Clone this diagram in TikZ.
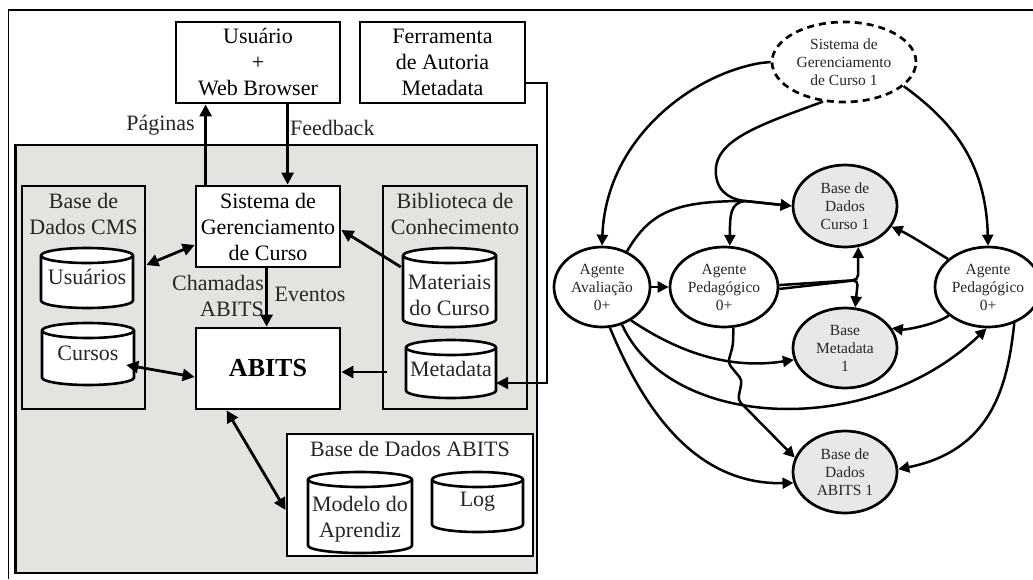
\documentclass[tikz,border=0pt]{standalone}
\usepackage{fontspec}
\setmainfont{Liberation Serif}
\usetikzlibrary{arrows.meta,shapes.geometric}
\definecolor{panelgray}{RGB}{225,228,223}
\definecolor{nodegray}{RGB}{232,233,230}
\newcommand\bigfont{\fontsize{22}{26}\selectfont}
\newcommand\smallfont{\fontsize{15.5}{18}\selectfont}

% database cylinder: name, left x, top y, right x, bottom y, text y, text
\newcommand{\dbcyl}[7]{%
  \pgfmathsetmacro\cxa{(#2+#4)/2}%
  \pgfmathsetmacro\rxa{(#4-#2)/2}%
  \pgfmathsetmacro\cya{(#3+#5)/2}%
  \pgfmathsetmacro\wa{#4-#2}%
  \pgfmathsetmacro\ha{#5-#3}%
  \draw[cylline] (#2,-#3-7.5) -- (#2,-#5+7.5)
     arc[start angle=180,end angle=360,x radius=\rxa,y radius=7.5]
     -- (#4,-#3-7.5)
     arc[start angle=0,end angle=180,x radius=\rxa,y radius=7.5] -- cycle;
  \draw[cylline,fill=none] (#2,-#3-7.5)
     arc[start angle=180,end angle=360,x radius=\rxa,y radius=7.5];
  \node[inner sep=0pt,minimum width=\wa pt,minimum height=\ha pt] (#1) at (\cxa,-\cya) {};
  \node[lbl] (#1-t) at (\cxa,-#6) {#7};
}

\begin{document}
\begin{tikzpicture}[x=1pt,y=1pt,
  >={Triangle[length=12pt,width=12pt]},
  frame/.style={line width=1.8pt},
  box/.style={draw,line width=2.8pt,fill=white,inner sep=0pt,align=center,font=\bigfont},
  graybox/.style={box,fill=panelgray},
  lbl/.style={inner sep=0pt,align=center,font=\bigfont,text=black!85},
  cylline/.style={line width=2.6pt,fill=white},
  link/.style={line width=2.8pt,->},
  dlink/.style={line width=2.8pt,<->},
  agent/.style={ellipse,draw,line width=2.7pt,inner sep=0pt,align=center,font=\smallfont,text=black!85,fill=white},
  store/.style={agent,fill=nodegray},
  rlink/.style={line width=2.5pt,-{Triangle[length=11pt,width=11pt]}}]

\clip (0,0) rectangle (1033,-579);
\fill[white] (0,0) rectangle (1033,-579);

% outer frame
\draw[frame] (8.5,-579) -- (8.5,-10) -- (1033,-10);

% ---------------- architecture (left) ----------------
\node[draw,line width=2.2pt,fill=panelgray,inner sep=0pt,minimum width=521.5pt,minimum height=428pt] (panel) at (276.25,-359) {};

\node[box,minimum width=164pt,minimum height=81pt] (usr) at (258,-62.5) {Usuário\\+\\Web Browser};
\node[box,minimum width=165pt,minimum height=81pt] (ferr) at (442.5,-62.5) {Ferramenta\\de Autoria\\Metadata};

\node[graybox,minimum width=123pt,minimum height=223pt] (cms) at (83.5,-297.5) {};
\node[lbl] (cmsT) at (83.5,-213.5) {Base de\\Dados CMS};
\node[graybox,minimum width=144pt,minimum height=223pt] (bib) at (455,-297.5) {};
\node[lbl] (bibT) at (455,-213.5) {Biblioteca de\\Conhecimento};

\node[box,minimum width=144pt,minimum height=81pt] (sis) at (268,-226.5) {Sistema de\\Gerenciamento\\de Curso};
\node[box,minimum width=144pt,minimum height=81pt,font=\fontsize{26}{30}\selectfont\bfseries] (abits) at (268,-368.5) {ABITS};

\node[box,minimum width=246pt,minimum height=122pt] (bda) at (410,-495) {};
\node[lbl] (bdaT) at (410,-449) {Base de Dados ABITS};

\dbcyl{usu}{41}{248}{133}{308}{277}{Usuários}
\dbcyl{cur}{42}{323}{134}{385}{353}{Cursos}
\dbcyl{mat}{403}{248}{496}{327}{295}{Materiais\\do Curso}
\dbcyl{meta}{406}{340}{496}{398}{369}{Metadata}
\dbcyl{mod}{308}{472}{412}{553}{519.5}{Modelo do\\Aprendiz}
\dbcyl{log}{432}{472}{523}{532}{502}{Log}

% labels
\node[lbl] (pag) at (160.5,-125) {Páginas};
\node[lbl,anchor=west] (fb) at (290,-128) {Feedback};
\node[lbl,anchor=east,align=right] (cham) at (264,-295.5) {Chamadas\\ABITS};
\node[lbl] (evt) at (310,-294) {Eventos};

% connectors
\draw[link] ([xshift=11pt]sis.north west) -- ([xshift=31pt]usr.south west);
\draw[link] ([xshift=113pt]usr.south west) -- ([xshift=93pt]sis.north west);
\draw[link] ([xshift=72pt]sis.south west) -- ([xshift=72pt]abits.north west);
\draw[dlink] (cms.east |- 0,-265) -- (sis.west |- 0,-245);
\draw[dlink] ([xshift=-8pt]cur.east |- 0,-365) -- (abits.west |- 0,-377);
\draw[link] ([xshift=5pt]bib.west |- 0,-372) -- (abits.east |- 0,-372);
\draw[link] ([xshift=-2pt]mat.west |- 0,-267) -- (sis.east |- 0,-230);
\draw[dlink] ([xshift=32pt]abits.south west) -- (bda.west |- 0,-510);
\draw[line width=2.2pt,->] (ferr.east |- 0,-83) -- (547,-83) -- (547,-383) -- (meta.east |- 0,-383);

% ---------------- agents (right) ----------------
\node[agent,dashed,dash pattern=on 7pt off 5pt,minimum width=144pt,minimum height=80pt] (sgc) at (844,-62) {Sistema de\\Gerenciamento\\de Curso 1};
\node[store,minimum width=104pt,minimum height=82pt] (bdc) at (845,-206) {Base de\\Dados\\Curso 1};
\node[agent,minimum width=96pt,minimum height=80pt] (aval) at (602,-287) {Agente\\Avaliação\\0+};
\node[agent,minimum width=108pt,minimum height=80pt] (pedA) at (724,-287) {Agente\\Pedagógico\\0+};
\node[agent,minimum width=106pt,minimum height=80pt] (pedB) at (988,-287) {Agente\\Pedagógico\\0+};
\node[store,minimum width=104pt,minimum height=80pt] (bmd) at (845,-348) {Base\\Metadata\\1};
\node[store,minimum width=104pt,minimum height=82pt] (bdab) at (845,-472) {Base de\\Dados\\ABITS 1};

\coordinate (j1) at (745,-201);
\coordinate (j2) at (858,-280);

\draw[rlink] (sgc.west) -- ++(-10,-1) .. controls (690,-75) and (606,-140) .. (aval.north);
\draw[rlink] (sgc.242) .. controls (760,-125) and (712,-140) .. (716,-175) .. controls (718,-195) and (735,-200) .. (j1) -- (bdc.west);
\draw[rlink] (aval.55) .. controls (650,-212) and (675,-201) .. (j1) -- (bdc.west);
\draw[rlink] (j1) .. controls (730,-203) and (730,-215) .. (pedA.82);
\draw[rlink] (sgc.338) .. controls (950,-120) and (986,-160) .. (pedB.north);
\draw[rlink] (pedB.145) .. controls (930,-248) and (910,-235) .. (bdc.336);
\draw[rlink,rounded corners=5pt] (pedA.2) -- (j2) -- (bdc.288);
\draw[rlink,rounded corners=5pt] (pedA.358) -- (j2) -- (bmd.76);
\draw[rlink] (aval.east) -- (pedA.west);
\draw[rlink] (pedB.216) .. controls (935,-325) and (905,-330) .. (bmd.23);
\draw[rlink] (aval.311) .. controls (690,-360) and (740,-368) .. (bmd.193);
\draw[rlink] (aval.298) .. controls (670,-430) and (870,-440) .. (pedB.268);
\draw[rlink] (aval.281) .. controls (640,-400) and (690,-485) .. (bdab.192);
\draw[rlink,rounded corners=4pt] (pedA.283) -- (733,-345) -- (728,-363) -- (742,-380) -- (738,-400) -- (bdab.164);
\draw[rlink] (pedB.306) .. controls (1008,-380) and (995,-450) .. (bdab.3);

\end{tikzpicture}
\end{document}
